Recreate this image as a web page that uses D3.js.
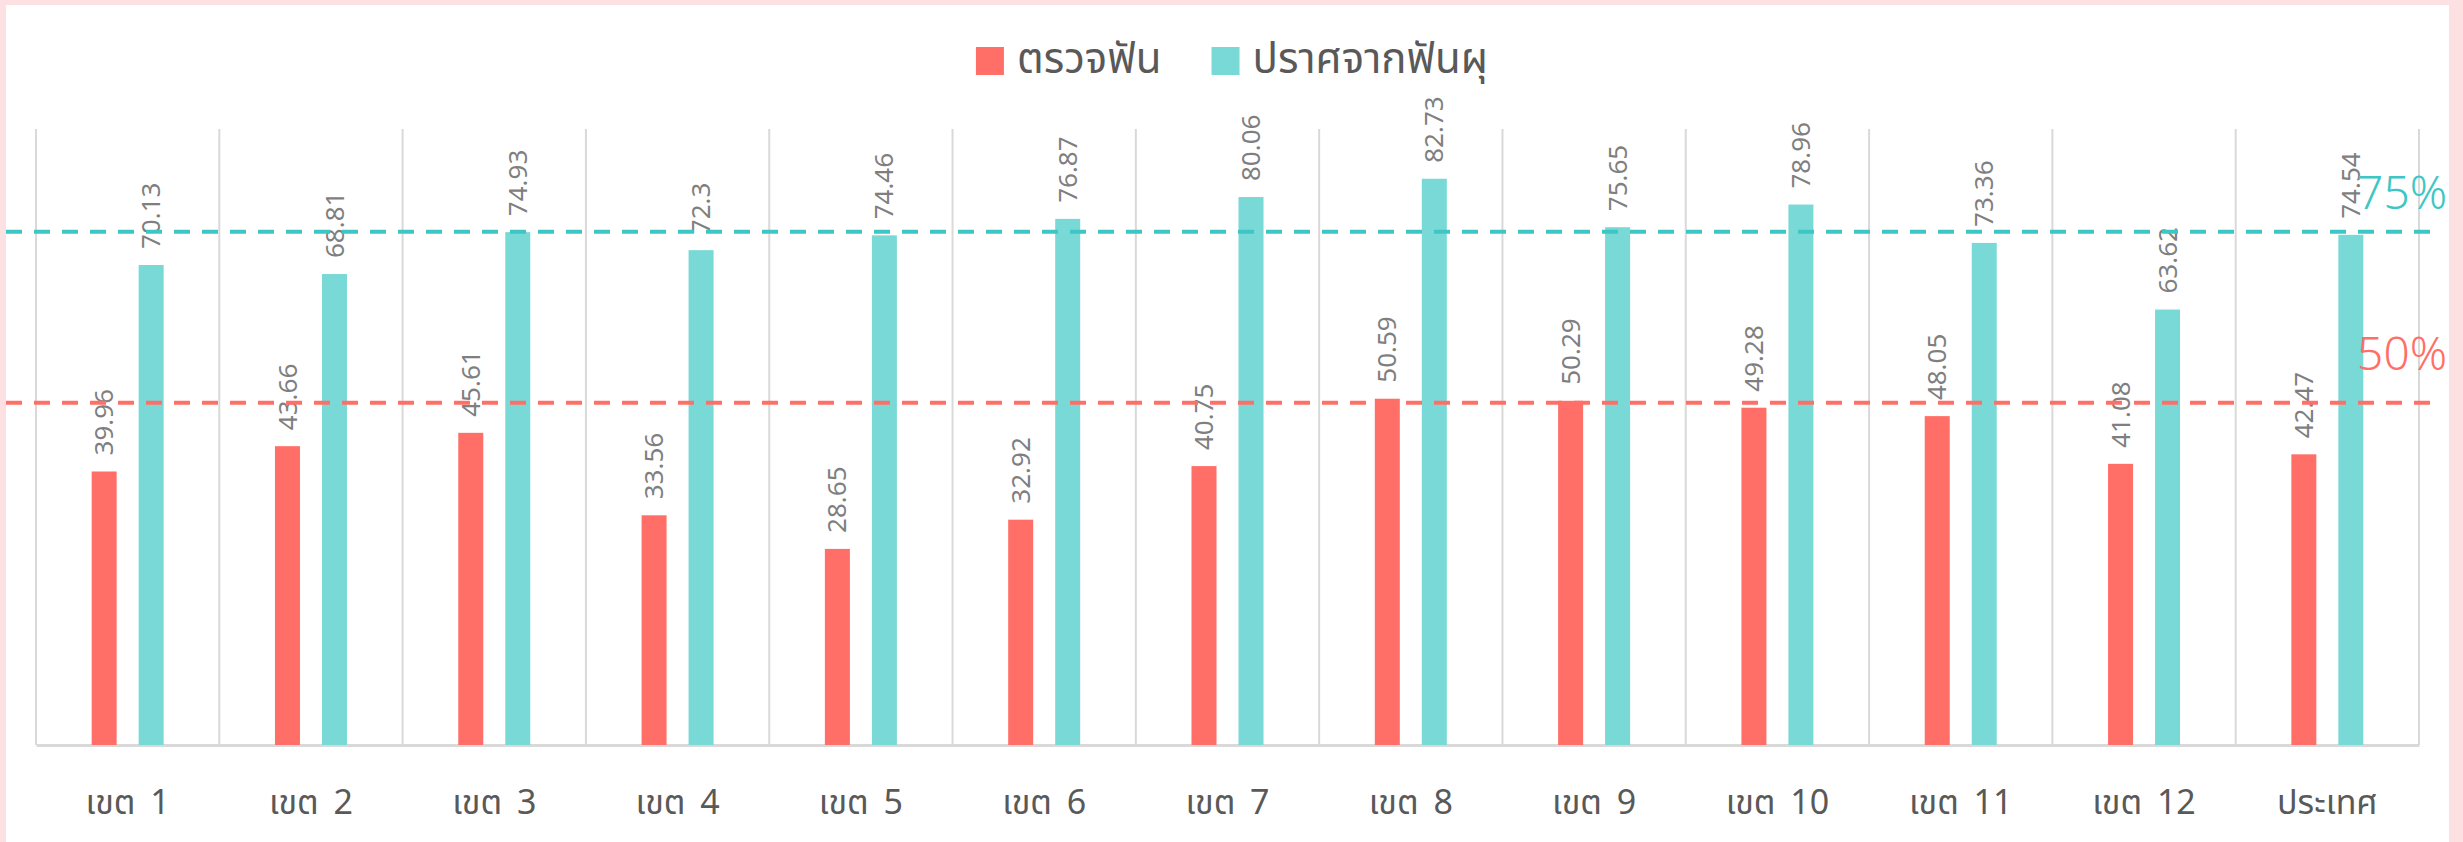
<!DOCTYPE html>
<html>
<head>
<meta charset="utf-8">
<script src="https://cdn.jsdelivr.net/npm/d3@7"></script>
<style>
  body { margin: 0; background: #fde0e1; }
  svg { display: block; }
</style>
</head>
<body>
<script>
const w = 2463;
const h = 842;

// data
const categories = ['เขต 1','เขต 2','เขต 3','เขต 4','เขต 5','เขต 6','เขต 7','เขต 8','เขต 9','เขต 10','เขต 11','เขต 12','ประเทศ'];
const seriesNames = ['ตรวจฟัน','ปราศจากฟันผุ'];
const checkup = [39.96,43.66,45.61,33.56,28.65,32.92,40.75,50.59,50.29,49.28,48.05,41.08,42.47];
const cavityFree = [70.13,68.81,74.93,72.3,74.46,76.87,80.06,82.73,75.65,78.96,73.36,63.62,74.54];
const targets = [75, 50];
const targetLabels = ['75%', '50%'];

const colors = ['#ff6f67', '#79d9d7'];
const lineColors = ['#3ec6c4', '#ff6f67'];

const svg = d3.select('body').append('svg').attr('width', w).attr('height', h);

// white card
svg.append('rect').attr('x', 6).attr('y', 5).attr('width', 2443).attr('height', h - 5).attr('fill', '#fff');

const xScale = d3.scaleBand().domain(categories).range([36, 2419]);
const xSub = d3.scaleBand().domain(seriesNames).range([-36, 36]).paddingInner(0.468);
const yScale = d3.scaleLinear().domain([0, 90]).range([745, 129]);

// vertical separators
const seps = categories.map(c => xScale(c)).concat([xScale.range()[1]]);
svg.append('g').selectAll('line').data(seps).enter()
  .append('line')
  .attr('x1', d => d).attr('x2', d => d)
  .attr('y1', yScale(90)).attr('y2', yScale(0))
  .attr('stroke', '#d9d9d9').attr('stroke-width', 2);

// bottom axis
const bottomAxis = d3.axisBottom(xScale).tickSize(0).tickPadding(45);
const ax = svg.append('g').attr('transform', 'translate(0,' + yScale(0) + ')').call(bottomAxis);
ax.select('.domain').attr('stroke', '#d9d9d9').attr('stroke-width', 3);
ax.selectAll('text')
  .attr('fill', '#595959')
  .style('font-family', '"Noto Sans Thai","Noto Sans",sans-serif')
  .style('font-size', '34px')
  .style('word-spacing', '6px');

const rows = categories.map((c, i) => ({cat: c, vals: [checkup[i], cavityFree[i]]}));

const groups = svg.selectAll('.grp').data(rows).enter()
  .append('g').attr('class', 'grp')
  .attr('transform', d => 'translate(' + (xScale(d.cat) + xScale.bandwidth() / 2) + ',0)');

groups.selectAll('rect').data(d => d.vals.map((v, k) => ({s: seriesNames[k], v: v, k: k}))).enter()
  .append('rect')
  .attr('x', d => xSub(d.s))
  .attr('width', xSub.bandwidth())
  .attr('y', d => yScale(d.v))
  .attr('height', d => yScale(0) - yScale(d.v))
  .attr('fill', d => colors[d.k]);

// target lines
svg.selectAll('.target').data(targets).enter()
  .append('line').attr('class', 'target')
  .attr('x1', 6).attr('x2', 2430)
  .attr('y1', d => yScale(d)).attr('y2', d => yScale(d))
  .attr('stroke', (d, i) => lineColors[i])
  .attr('stroke-width', 4)
  .attr('stroke-dasharray', '16 12');

// value labels
groups.selectAll('text.val').data(d => d.vals.map((v, k) => ({s: seriesNames[k], v: v, k: k}))).enter()
  .append('text').attr('class', 'val')
  .attr('transform', d => 'translate(' + (xSub(d.s) + xSub.bandwidth() / 2) + ',' + (yScale(d.v) - 16) + ') rotate(-90)')
  .attr('dy', '0.35em')
  .attr('fill', '#7f7f7f')
  .style('font-family', '"Noto Sans",sans-serif')
  .style('font-size', '26px')
  .text(d => d.v);

// target labels
svg.selectAll('.tlabel').data(targets).enter()
  .append('text').attr('class', 'tlabel')
  .attr('x', 2447)
  .attr('y', (d, i) => yScale(d) - (i == 0 ? 23 : 33))
  .attr('text-anchor', 'end')
  .attr('fill', (d, i) => lineColors[i])
  .style('font-family', '"Noto Sans",sans-serif')
  .style('font-weight', 300)
  .style('font-size', '46px')
  .text((d, i) => targetLabels[i]);

// legend
const legend = svg.append('g');
const items = legend.selectAll('g').data(seriesNames).enter().append('g');
items.append('rect').attr('width', 28).attr('height', 28).attr('y', 47)
  .attr('fill', (d, i) => colors[i]);
items.append('text').attr('x', 41).attr('y', 73)
  .attr('fill', '#595959')
  .style('font-family', '"Noto Sans Thai","Noto Sans",sans-serif')
  .style('font-size', '42px')
  .text(d => d);
let xpos = 0;
items.each(function() {
  d3.select(this).attr('transform', 'translate(' + xpos + ',0)');
  xpos += 41 + d3.select(this).select('text').node().getComputedTextLength() + 50;
});
const total = xpos - 50;
legend.attr('transform', 'translate(' + (1232 - total / 2) + ',0)');
</script>
</body>
</html>
